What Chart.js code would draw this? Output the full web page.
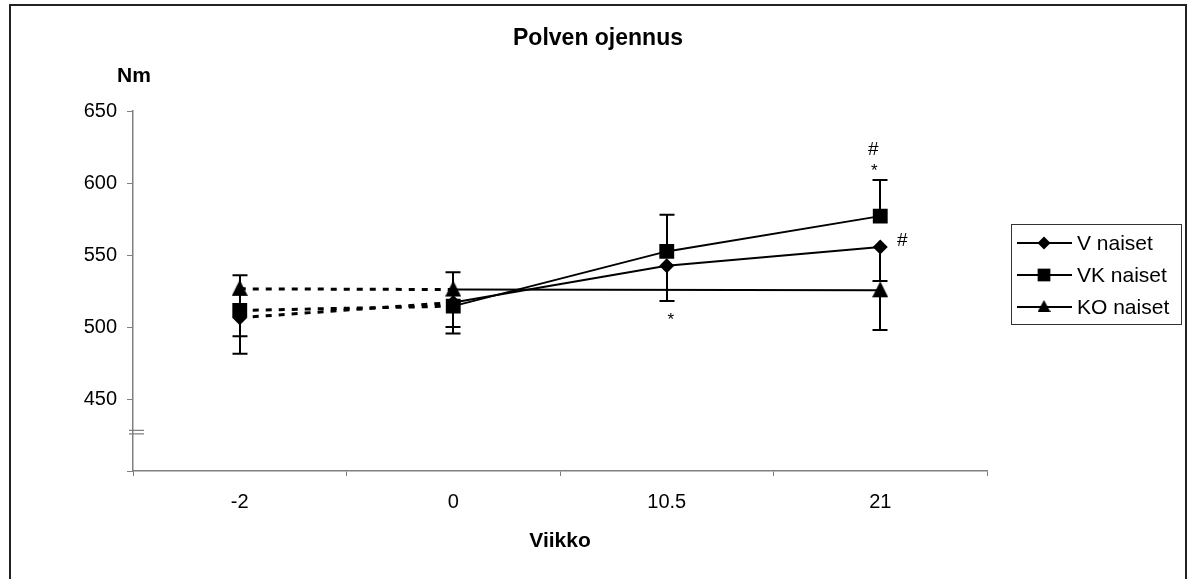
<!DOCTYPE html>
<html>
<head>
<meta charset="utf-8">
<title>Polven ojennus</title>
<script src="https://cdn.jsdelivr.net/npm/chart.js@4/dist/chart.umd.min.js"></script>
<style>
  html, body { margin: 0; padding: 0; background: #fff; }
  #wrap { width: 1189px; height: 579px; position: relative; }
</style>
</head>
<body>
<div id="wrap"><canvas id="c" width="1189" height="579"></canvas></div>
<script>
// Measurement weeks (category axis)
const categories = ['-2', '0', '10.5', '21'];

// Group means (Nm)
const vNaiset  = [506.5, 517, 542.5, 555.5];
const vkNaiset = [511.5, 514.5, 552.5, 577];
const koNaiset = [526.5, 526, null, 525.5];

// One-sided error bars (Nm): VK upwards, V and KO downwards
const vNaisetErr  = [25, 21.5, 24.5, 23.5];
const vkNaisetErr = [24.5, 23.5, 25.5, 25];
const koNaisetErr = [33, 26, null, 27.5];

const seriesNames = ['V naiset', 'VK naiset', 'KO naiset'];

// Y axis range and ticks
const yMin = 400, yMax = 650, yStep = 50;
const yBreakValue = 427;

// Significance marks: series index, category, text
const marks = [
  { series: 1, cat: '21',   text: '#' },
  { series: 1, cat: '21',   text: '*' },
  { series: 0, cat: '21',   text: '#' },
  { series: 0, cat: '10.5', text: '*' }
];

const FONT = '"Liberation Sans", Arial, Helvetica, sans-serif';
const AXIS_GREY = '#808080';

// First segment (baseline -2 -> 0) is dotted, the rest solid
const segmentStyle = {
  borderDash: c => (c.p0DataIndex === 0 ? [6, 7] : undefined),
  borderWidth: c => (c.p0DataIndex === 0 ? 3 : 2)
};

// Upright triangle marker with its body a little above the point
function triangleMarker(w, h, pad) {
  const c = document.createElement('canvas');
  c.width = w; c.height = h + pad;
  const g = c.getContext('2d');
  g.fillStyle = '#000';
  g.beginPath();
  g.moveTo(w / 2, 0); g.lineTo(w, h); g.lineTo(0, h);
  g.closePath();
  g.fill();
  return c;
}
const triangleBig = triangleMarker(16, 16, 2);
const triangleSmall = triangleMarker(13, 12, 0);

function drawMarker(ctx, style, x, y, r) {
  if (style instanceof HTMLCanvasElement) {
    ctx.drawImage(triangleSmall, x - triangleSmall.width / 2, y - triangleSmall.height / 2 - 1);
    return;
  }
  ctx.beginPath();
  if (style === 'rectRot') {
    ctx.moveTo(x, y - r); ctx.lineTo(x + r, y); ctx.lineTo(x, y + r); ctx.lineTo(x - r, y);
  } else {
    const s = r * Math.SQRT1_2;
    ctx.rect(x - s, y - s, 2 * s, 2 * s);
  }
  ctx.closePath();
  ctx.fill();
}

// Frame, titles, axis break, legend and significance marks
const decorations = {
  id: 'decorations',
  beforeDraw(chart) {
    const ctx = chart.ctx;
    ctx.save();
    ctx.fillStyle = '#fff';
    ctx.fillRect(0, 0, chart.width, chart.height);
    ctx.strokeStyle = '#222';
    ctx.lineWidth = 2;
    ctx.strokeRect(10, 5, 1176, 640);
    ctx.restore();
  },
  afterDraw(chart) {
    const ctx = chart.ctx;
    const x = chart.scales.x, y = chart.scales.y;
    ctx.save();
    ctx.fillStyle = '#000';
    ctx.textAlign = 'center';
    ctx.textBaseline = 'alphabetic';
    ctx.font = 'bold 23px ' + FONT;
    ctx.fillText('Polven ojennus', 598, 45);
    ctx.font = 'bold 21px ' + FONT;
    ctx.fillText('Nm', 134, 82);
    ctx.fillText('Viikko', 560, 547);

    // axis break sign
    const yb = y.getPixelForValue(yBreakValue);
    ctx.strokeStyle = AXIS_GREY;
    ctx.lineWidth = 1.2;
    ctx.beginPath();
    ctx.moveTo(129, yb - 1.8); ctx.lineTo(144, yb - 1.8);
    ctx.moveTo(129, yb + 1.8); ctx.lineTo(144, yb + 1.8);
    ctx.stroke();

    // significance marks
    marks.forEach(m => {
      const ds = chart.data.datasets[m.series];
      const i = categories.indexOf(m.cat);
      const px = x.getPixelForValue(i);
      const v = ds.data[i], e = ds.errors[i];
      ctx.textAlign = 'center';
      ctx.textBaseline = 'middle';
      if (m.text === '*') {
        ctx.font = '17px ' + FONT;
        if (m.series === 1) ctx.fillText('*', px - 6, y.getPixelForValue(v + e) - 9);
        else ctx.fillText('*', px + 4, y.getPixelForValue(v - e) + 19);
      } else {
        ctx.font = '19px ' + FONT;
        if (m.series === 1) ctx.fillText('#', px - 7, y.getPixelForValue(v + e) - 30);
        else ctx.fillText('#', px + 22, y.getPixelForValue(v) - 6);
      }
    });

    // legend
    ctx.strokeStyle = '#333';
    ctx.lineWidth = 1;
    ctx.strokeRect(1011.5, 224.5, 170, 100);
    ctx.font = '21px ' + FONT;
    ctx.textAlign = 'left';
    ctx.textBaseline = 'middle';
    const rowsY = [243, 275, 307];
    chart.data.datasets.forEach((ds, i) => {
      const ry = rowsY[i];
      ctx.strokeStyle = '#000';
      ctx.lineWidth = 2;
      ctx.beginPath();
      ctx.moveTo(1017, ry); ctx.lineTo(1072, ry);
      ctx.stroke();
      ctx.fillStyle = '#000';
      drawMarker(ctx, ds.pointStyle, 1044, ry, ds.pointStyle === 'rect' ? 9 : 6.5);
      ctx.fillText(ds.label, 1077, ry + 1);
    });
    ctx.restore();
  }
};

// One-sided vertical error bars with caps
const errorBars = {
  id: 'errorBars',
  afterDatasetsDraw(chart) {
    const ctx = chart.ctx, y = chart.scales.y;
    ctx.save();
    ctx.strokeStyle = '#000';
    ctx.lineWidth = 2;
    chart.data.datasets.forEach((ds, i) => {
      const meta = chart.getDatasetMeta(i);
      meta.data.forEach((pt, j) => {
        const v = ds.data[j], e = ds.errors[j];
        if (v == null || e == null) return;
        const end = y.getPixelForValue(ds.errorDirection === 'plus' ? v + e : v - e);
        const start = y.getPixelForValue(v);
        const px = Math.round(pt.x);
        ctx.beginPath();
        ctx.moveTo(px, start); ctx.lineTo(px, end);
        ctx.moveTo(px - 7.5, end); ctx.lineTo(px + 7.5, end);
        ctx.stroke();
      });
    });
    ctx.restore();
  }
};

const mkDataset = (label, data, errors, dir, style, radius) => ({
  label, data, errors,
  errorDirection: dir,
  borderColor: '#000',
  backgroundColor: '#000',
  borderWidth: 2,
  pointStyle: style,
  pointRadius: radius,
  pointBorderWidth: 0,
  pointBackgroundColor: '#000',
  spanGaps: true,
  tension: 0,
  segment: segmentStyle
});

new Chart(document.getElementById('c'), {
  type: 'line',
  data: {
    labels: categories,
    datasets: [
      mkDataset(seriesNames[0], vNaiset, vNaisetErr, 'minus', 'rectRot', 7.5),
      mkDataset(seriesNames[1], vkNaiset, vkNaisetErr, 'plus', 'rect', 10.5),
      mkDataset(seriesNames[2], koNaiset, koNaisetErr, 'minus', triangleBig, 9)
    ]
  },
  options: {
    responsive: false,
    animation: false,
    events: [],
    layout: { padding: { top: 111, right: 202, bottom: 0, left: 0 } },
    plugins: { legend: { display: false }, title: { display: false }, tooltip: { enabled: false } },
    scales: {
      x: {
        type: 'category',
        offset: true,
        grid: { offset: true, drawOnChartArea: false, drawTicks: true, tickLength: 5, color: AXIS_GREY, lineWidth: 1 },
        border: { color: AXIS_GREY, width: 1.5 },
        ticks: { color: '#000', font: { family: FONT, size: 20 }, padding: 14, maxRotation: 0 },
        afterFit: s => { s.height = 108; }
      },
      y: {
        min: yMin, max: yMax,
        grid: { drawOnChartArea: false, drawTicks: true, tickLength: 6, color: AXIS_GREY, lineWidth: 1 },
        border: { color: AXIS_GREY, width: 1.5 },
        ticks: {
          stepSize: yStep, color: '#000', font: { family: FONT, size: 20 }, padding: 10,
          callback: v => (v === yMin ? '' : String(v))
        },
        afterFit: s => { s.width = 133; }
      }
    }
  },
  plugins: [decorations, errorBars]
});
</script>
</body>
</html>
